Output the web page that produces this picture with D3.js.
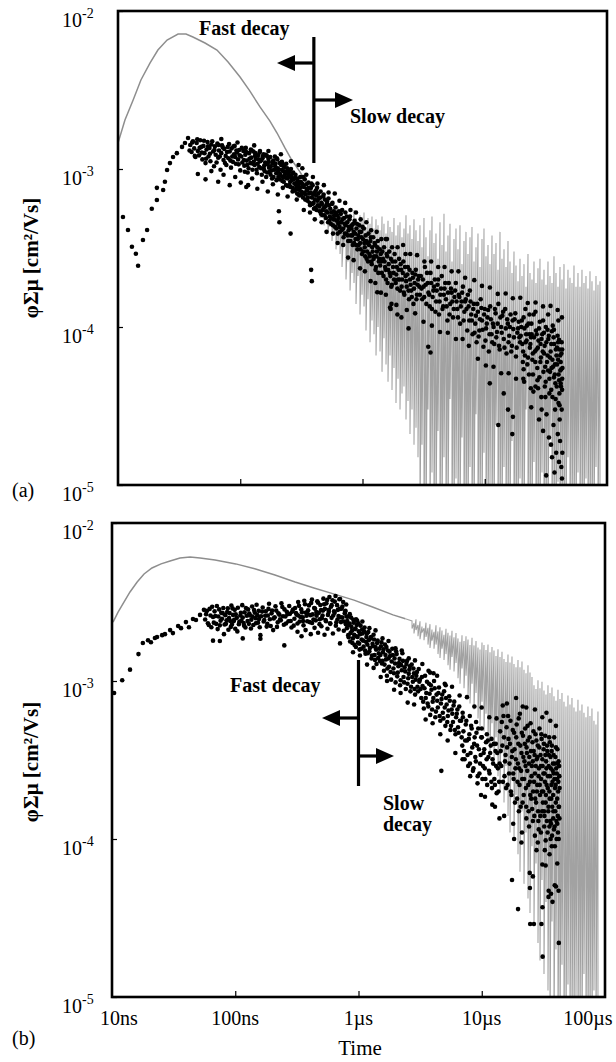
<!DOCTYPE html>
<html><head><meta charset="utf-8">
<script src="https://cdn.jsdelivr.net/npm/d3@7/dist/d3.min.js"></script>
<style>html,body{margin:0;padding:0;background:#fff;} svg{display:block;}</style>
</head><body>
<svg id="chart" width="616" height="1062"></svg>
<script>
// ---------------- DATA ----------------
// time in ns, values in units of 1e-4 cm^2/Vs
const X_TICKS_NS = [10, 100, 1000, 10000, 100000];
const X_TICK_LABELS = ["10ns", "100ns", "1\u00b5s", "10\u00b5s", "100\u00b5s"];
const Y_TICKS = [0.1, 1, 10, 100];
const Y_TICK_EXP = ["-5", "-4", "-3", "-2"];
const Y_TITLE = "\u03c6\u03a3\u03bc [cm\u00b2/Vs]";
const X_TITLE = "Time";

// Panel (a) grey trace: smooth early part
const grayA_t = [10,11.4,13.3,15.4,18.3,21.2,25.2,31.0,36.0,41.0,51.5,64.5,79.5,99.6,120,145,175,200,232,264,308,345];
const grayA_v = [14.6,20.4,27.3,36.6,46.9,56.6,65.5,71.5,71.5,68.5,62.7,56.6,47.6,38.2,31.1,24.7,20.1,16.9,13.6,11.4,9.6,8.3];
// Panel (a) grey trace: noisy part (upper / lower excursion per sample)
const grayA_nt = [372,386,401,417,433,449,466,484,503,522,542,563,585,607,630,
 655,680,706,733,761,791,821,852,885,919,954,991,1029,1068,1109,1152,1196,1242,1290,1339,1391,1444,1499,1557,1617,1679,1743,1810,1879,1952,2027,2104,2185,2269,2356,2446,2540,2638,2739,2844,
 2953,3066,3184,3306,3433,3565,3702,3844,3991,4145,4304,4469,4641,4819,5004,5196,5396,5603,5818,6041,6273,6514,6764,7023,7293,7573,7864,8166,8479,8805,9143,9495,9859,10237,10631,11039,11463,11903,12359,12834,13327,13838,14370,14921,15494,16088,16706,17348,18014,18706,19423,20169,20944,21746,22581,23448,24348,25283,26252,27261,28307,29394,30523,31693,32910,34173,35486,36849,38262,39731,41256,42841,44486,46191,47965,49806,51719,53705,55764,57906,60127,62436,64834,67320,69906,72589,75376,78270,81283,84402,87640];
const grayA_hi = [7.8,7.6,7.1,7.4,6.9,6.6,6.8,6.2,6.4,5.9,6.1,5.6,5.9,5.4,5.7,
 5.3,5.6,5.0,5.4,4.8,5.2,4.6,5.5,4.9,4.4,5.1,4.7,5.3,4.3,4.9,4.5,5.0,4.2,4.8,4.4,
 4.1,5.0,4.5,3.9,4.7,4.3,4.0,4.9,3.8,4.4,4.6,3.7,4.2,5.1,3.9,4.4,3.6,4.8,4.1,3.5,
 4.4,3.2,4.9,3.7,2.8,4.1,5.0,3.4,3.9,2.7,4.6,3.3,5.2,3.0,3.8,4.5,2.6,3.6,4.2,3.1,
 4.4,2.5,3.5,4.0,2.9,3.7,4.3,2.6,3.2,3.9,2.4,3.6,4.2,2.8,3.3,2.5,3.8,2.9,3.4,2.3,
 4.0,2.7,3.1,2.4,3.5,2.6,2.2,3.0,2.45,1.95,2.7,2.1,2.5,1.8,2.9,2.2,2.0,2.6,1.9,2.35,
 2.7,2.0,2.3,1.85,2.6,2.1,1.9,2.8,2.2,1.8,2.4,2.0,2.5,1.75,2.3,2.05,1.9,2.45,1.8,2.2,
 1.8,2.3,1.9,2.1,1.75,2.25,1.95,1.7,2.1,1.85,1.95];
const grayA_lo = [6.9,6.3,6.0,5.5,5.8,4.9,5.3,4.4,4.8,3.9,4.3,3.5,3.9,3.1,3.4,
 2.9,2.4,3.3,2.0,2.6,1.7,2.2,1.9,1.4,2.1,1.2,1.6,1.35,0.95,1.5,0.8,1.1,0.9,0.66,1.0,
 0.7,0.52,0.85,0.58,0.45,0.66,0.4,0.55,0.33,0.47,0.3,0.38,0.42,0.26,0.34,0.21,0.3,0.18,0.23,0.15,
 0.05,0.18,0.05,0.05,0.3,0.05,0.12,0.05,0.05,0.22,0.05,0.05,0.15,0.05,0.05,0.35,0.05,0.05,0.11,0.05,
 0.05,0.2,0.05,0.05,0.05,0.13,0.05,0.05,0.28,0.05,0.05,0.05,0.16,0.05,0.05,0.1,0.05,0.05,0.24,0.05,
 0.05,0.05,0.13,0.05,0.05,0.05,0.19,0.05,0.05,0.05,0.11,0.05,0.05,0.3,0.05,0.05,0.05,0.14,0.05,0.05,
 0.05,0.12,0.05,0.05,0.05,0.2,0.05,0.05,0.05,0.105,0.05,0.05,0.05,0.05,0.15,0.05,0.05,0.05,0.05,0.12,
 0.05,0.05,0.05,0.11,0.05,0.05,0.05,0.05,0.13,0.05,0.05];

// Panel (a) dots [ns, value]
const dotsA = [
 [10.98,4.97],[12.07,4.11],[13.0,3.22],[14.0,2.91],[14.6,2.44],
 [16.0,3.55],[17.3,4.11],[18.9,5.6],[20.8,6.36],[20.8,7.6],[23.4,7.36],[24.2,8.3],[25.2,9.86],[26.6,10.9],[28.2,11.9],[30.3,12.6],[33.4,13.8],[35.3,14.6],[37.4,15.7],
 [39,14.2],[40,12.8],[41,15.0],[42,13.5],[43,11.9],[44,14.6],[45,13.0],[46,12.2],[47,15.2],[48,13.8],[49,11.5],[50,14.0],[51,12.6],[52,10.9],[53,13.3],[54,14.8],[55,12.0],[56,13.6],[57,11.2],[58,14.3],[60,12.9],[61,10.4],[62,13.9],[63,12.3],[65,14.5],[66,11.8],[67,13.1],[69,9.9],[70,12.6],[71,14.1],[73,11.4],[74,13.4],[76,12.1],[77,10.6],[79,13.8],[80,11.7],[82,12.9],[84,10.2],[85,13.5],[87,11.1],[89,12.4],[90,14.0],[92,10.8],[94,12.7],[96,11.5],[98,13.2],[100,9.8],[102,12.0],[104,11.0],[106,13.0],[108,10.5],[110,12.3],[113,11.3],[115,9.5],[116,7.9],[118,12.6],[121,10.9],[123,11.8],[126,9.9],[128,12.9],[131,10.6],[134,11.6],[137,9.4],[140,12.2],[143,10.3],[146,11.2],[150,9.2],[153,12.0],[156,10.0],[160,11.0],[163,8.9],[167,10.7],[170,11.6],[174,9.6],[178,10.4],[182,8.7],[186,11.3],[190,9.9],[194,10.8],[198,8.5],[203,10.1],[207,5.4],[209,4.6],[212,9.3],[216,10.6],[221,8.4],[225,9.7],[230,10.3],[235,8.8],[240,9.5],[245,7.8],[250,9.2],[256,8.3],[258,3.9],[262,9.0],[268,7.6],[274,8.6],[280,7.3],[286,8.1],[292,7.0],[298,7.9],[305,6.8],
 [111,13.6],[117,10.1],[124,13.1],[129,11.1],[133,12.6],[139,10.8],[144,12.7],[149,11.4],[155,12.4],[158,9.7],[165,12.1],[172,10.2],[176,11.9],[181,9.8],[188,10.9],[192,12.0],[197,9.4],[201,11.5],[205,8.9],[210,10.9],[214,9.1],[219,11.1],[224,8.9],[228,10.4],[233,9.6],[238,10.8],[243,8.7],[248,9.9],[253,7.9],[260,10.0],[265,8.7],[271,9.5],[277,8.1],[283,9.2],[289,7.6],[295,8.7],[302,7.4],
 [310,8.9],[315,7.2],[320,8.1],[326,6.6],[331,7.7],[337,8.6],[343,6.9],[349,7.5],[355,6.3],[361,8.2],[367,7.0],[373,5.9],[379,7.6],[385,6.6],[391,7.9],[398,6.1],[404,7.1],[411,5.7],[418,6.8],[425,7.6],[432,5.9],[439,6.5],[446,5.4],[454,7.2],[461,6.1],[469,5.1],[477,6.7],[485,5.7],[493,6.4],[502,4.9],[510,6.0],[519,5.3],[527,6.5],[536,4.7],[545,5.6],[554,4.9],[563,6.0],[573,4.4],[582,5.4],[592,4.8],[602,5.7],[612,4.2],[622,5.1],[633,4.5],[643,5.4],[654,4.0],[380,2.3],[385,1.95],
 [665,5.2],[676,4.1],[688,4.8],[700,3.7],[712,4.5],[724,5.3],[737,3.9],[750,4.6],[763,3.5],[776,4.3],[790,5.0],[804,3.8],[818,4.4],[832,3.3],[847,4.0],[862,4.7],[877,3.6],[892,4.2],[908,3.1],[924,3.8],[940,4.4],[957,3.4],[974,4.0],[991,2.9],[1008,3.6],[1026,4.2],[1044,3.2],[1062,3.8],[1081,2.7],[1100,3.4],[1120,3.9],[1139,2.9],[1160,3.5],[1180,2.6],[1201,3.2],[1222,3.7],[1244,2.8],[1266,3.3],[1289,2.4],[1312,3.0],[1335,3.5],[1359,2.6],[1383,3.1],[1320,1.66],[1680,1.33],
 [1410,2.9],[1440,2.2],[1470,2.7],[1500,3.2],[1530,2.4],[1560,2.0],[1590,2.8],[1620,2.3],[1655,3.0],[1690,2.1],[1720,1.8],[1760,2.6],[1795,2.2],[1830,2.9],[1870,1.9],[1910,2.4],[1950,2.0],[1990,2.7],[2030,1.7],[2070,2.3],[2110,2.0],[2160,2.6],[2200,1.6],[2250,2.1],[2300,1.8],[2350,2.4],[2400,1.5],[2450,2.0],[2500,1.7],[2560,2.2],[2610,1.4],[2670,1.9],[2730,2.3],[2790,1.6],[2850,2.0],[2920,1.8],[1700,1.3],[2080,1.15],[2380,0.98],[1930,1.2],[1550,3.6],[2250,2.9],[3450,0.75],[3600,0.69],
 [3000,2.1],[3080,1.5],[3160,1.8],[3240,2.4],[3330,1.4],[3420,1.9],[3510,1.6],[3600,2.2],[3700,1.3],[3800,1.7],[3900,2.0],[4000,1.45],[4110,1.85],[4220,1.2],[4330,1.6],[4450,2.1],[4570,1.35],[4690,1.75],[4820,1.5],[4950,1.1],[5080,1.9],[5220,1.4],[5360,1.65],[5500,1.15],[5650,1.55],[5800,1.9],[5960,1.3],[6120,1.6],[6290,1.05],[6460,1.45],[6630,1.8],[6810,1.25],[7000,1.5],[7190,0.95],[7380,1.35],[7560,1.7],
 [7750,1.2],[7950,0.9],[8150,1.4],[8360,1.05],[8580,0.8],[8800,1.25],[9030,0.95],[9260,1.5],[9500,1.1],[9750,0.75],[10000,1.3],[10260,0.98],[10530,1.15],[10800,0.7],[11080,1.35],[11370,0.9],[11660,1.05],[11960,0.78],[12270,1.22],[12590,0.93],[12920,1.4],[13250,0.72],[13600,1.0],[13950,1.18],[14310,0.84],[14680,1.3],[15060,0.68],[15450,1.05],[15850,0.88],[16260,1.2],[16680,0.76],[17110,0.97],[17560,1.12],[18010,0.65],[18480,0.92],[18960,1.08],[19450,0.8],[11000,0.44],[12900,0.24],[15500,0.30],[16800,0.21],[17000,0.27],[14300,0.38],
 [19900,1.0],[20300,0.78],[20800,1.15],[21300,0.66],[21800,0.9],[22300,0.58],[22800,1.05],[23400,0.74],[23900,0.86],[24500,0.62],[25100,1.2],[25700,0.7],[26300,0.95],[26900,0.55],[27500,0.82],[28200,1.08],[28800,0.64],[29500,0.9],[30200,0.52],[30900,0.76],[31600,1.0],[32300,0.6],[33100,0.84],[33800,0.47],[34600,0.7],[35400,0.94],[36200,0.56],[37000,0.78],[37800,0.44],[38600,0.66],[39400,0.88],[40200,0.5],[41000,0.72],[41800,0.6],[42600,0.8],[43200,0.55],[42000,0.42],[40800,0.38],[39800,0.62],[38000,0.35],[36800,0.48],[35000,0.4],[33000,0.53],[31000,0.42],[29000,0.36],[27000,0.46],[25000,0.39],[23000,0.5],[21000,0.45],[43000,0.47],[42400,0.68],[41500,0.53],[40500,0.83],[39000,0.74],[37500,0.58],[36000,1.02],[34200,0.64],[32600,0.96],[30600,0.68],[28600,0.78],[26500,0.72],[24200,0.9],[22000,0.82],[20500,0.6],
 [24000,0.31],[27800,0.26],[30000,0.22],[32000,0.28],[34800,0.18],[36500,0.24],[38400,0.16],[39600,0.21],[40500,0.14],[41300,0.19],[42300,0.13],[43100,0.16],[37200,0.12],[35500,0.15],[31800,0.115],[42800,0.11],[33500,0.2],[29200,0.3],
 [21500,1.3],[26000,1.25],[33000,1.2],[42800,1.15],[40000,1.1]
];
const dotsA2 = [
 [38.5,13.1],[40.5,14.7],[42.5,12.1],[44.5,15.4],[46.5,13.6],[48.5,12.7],[50.5,15.1],[52.5,11.6],[54.5,13.9],[56.5,12.5],[59,15.0],[61.5,13.2],[64,11.0],[66.5,14.2],[68,12.0],[72,13.7],[75,10.9],[78,12.8],[81,14.4],[83,11.3],[86,12.0],[88,13.9],[91,11.9],[93,13.1],[97,10.7],[99,12.2],[103,13.6],[107,11.4],[109,9.6],[112,12.8],[114,10.6],[119,11.6],[122,13.3],[127,10.8],[132,12.1],[136,9.9],[141,11.5],[145,13.0],[148,10.1],[152,11.7],[157,10.5],[162,12.3],[166,9.5],[171,11.1],[177,9.2],[183,10.9],[187,8.9],[193,10.4],[199,11.7],[204,9.7],[211,8.6],[217,9.9],[222,10.8],[227,8.3],[232,9.2],[237,7.9],[242,10.1],[247,8.9],[252,9.6],[257,7.7],[263,8.5],[269,9.4],[275,7.4],[281,8.8],[287,7.9],[293,8.3],[299,6.9],[304,8.2],
 [308,7.6],[313,8.3],[318,6.9],[323,7.8],[328,8.9],[334,7.1],[340,6.4],[346,8.0],[352,7.3],[358,6.6],[364,7.6],[370,6.1],[376,7.1],[382,8.1],[388,6.0],[395,6.9],[401,5.6],[408,6.4],[415,7.3],[421,5.5],[428,6.3],[435,7.0],[443,5.8],[450,6.6],[457,5.2],[465,6.0],[473,5.5],[481,6.9],[489,5.1],[497,5.8],[506,5.4],[514,6.2],[523,4.6],[532,5.9],[541,5.0],[550,4.5],[559,5.3],[568,6.1],[578,4.8],[587,5.1],[597,4.3],[607,5.3],[617,4.7],[627,3.9],[638,4.9],[649,4.3],[660,4.6],
 [670,4.6],[682,5.5],[694,4.2],[706,4.9],[718,3.9],[730,4.4],[743,5.0],[756,3.8],[769,4.1],[783,4.8],[797,3.5],[811,4.2],[825,3.8],[840,4.5],[854,3.4],[869,3.9],[885,3.3],[900,4.5],[916,3.6],[932,3.3],[948,4.0],[965,3.1],[982,3.7],[1000,4.3],[1017,3.0],[1035,3.4],[1053,2.8],[1071,3.5],[1090,3.0],[1110,2.6],[1130,3.3],[1150,2.8],[1170,3.7],[1190,2.5],[1212,3.0],[1233,2.7],[1255,3.4],[1278,2.3],[1300,2.8],[1323,3.2],[1347,2.2],[1371,2.7],[1395,2.45],
 [1425,2.6],[1455,3.0],[1485,2.1],[1515,2.6],[1545,2.3],[1575,2.9],[1605,1.9],[1638,2.5],[1672,2.2],[1705,2.7],[1740,1.85],[1778,2.4],[1812,2.0],[1850,2.6],[1890,2.15],[1930,1.75],[1970,2.3],[2010,2.0],[2050,2.5],[2090,1.8],[2135,2.2],[2180,1.65],[2225,2.4],[2275,1.95],[2325,2.15],[2375,1.7],[2425,2.3],[2475,1.85],[2530,1.55],[2585,2.05],[2640,1.75],[2700,2.15],[2760,1.5],[2820,1.85],[2885,2.1],[2950,1.6],
 [3040,1.75],[3120,2.0],[3200,1.55],[3290,1.85],[3370,2.2],[3460,1.65],[3550,1.35],[3650,1.9],[3750,1.55],[3850,1.8],[3950,1.25],[4050,1.7],[4160,2.0],[4270,1.45],[4390,1.75],[4510,1.3],[4630,1.6],[4750,1.9],[4880,1.35],[5010,1.65],[5150,1.2],[5290,1.75],[5430,1.45],[5580,1.3],[5720,1.7],[5880,1.45],[6040,1.15],[6200,1.55],[6370,1.35],[6540,1.65],[6720,1.1],[6900,1.45],[7090,1.3],[7280,1.6],[7470,1.1],
 [7650,1.45],[7850,1.1],[8050,1.3],[8250,0.92],[8470,1.18],[8690,1.4],[8910,0.87],[9140,1.12],[9380,1.32],[9620,0.96],[9880,1.2],[10130,0.82],[10390,1.05],[10660,1.28],[10940,0.9],[11220,1.12],[11510,0.8],[11810,1.0],[12110,1.3],[12430,0.86],[12750,1.05],[13080,0.76],[13420,1.15],[13770,0.92],[14130,1.25],[14500,0.74],[14870,0.98],[15250,1.12],[15650,0.8],[16050,1.0],[16470,0.7],[16900,1.1],[17340,0.86],[17780,1.22],[18240,0.74],[18720,0.98],[19200,0.86],
 [19700,0.88],[20100,1.1],[20600,0.7],[21100,0.98],[21600,0.8],[22100,1.02],[22600,0.64],[23100,0.9],[23600,0.78],[24100,1.05],[24700,0.68],[25300,0.86],[25900,0.6],[26600,0.9],[27200,0.74],[27800,0.98],[28500,0.6],[29100,0.84],[29800,0.7],[30500,0.92],[31200,0.56],[31900,0.8],[32700,0.66],[33400,0.88],[34200,0.52],[35000,0.78],[35800,0.62],[36600,0.86],[37400,0.5],[38200,0.72],[39000,0.58],[39800,0.8],[40600,0.46],[41400,0.66],[42200,0.54],[43000,0.72],[20800,0.54],[24800,0.5],[28000,0.48],[31500,0.45],[35200,0.55],[38800,0.42],[41800,0.44],[42900,0.4],[23200,1.2],[30000,1.1],[36800,0.96],[26000,0.42],[33800,0.38],[40100,0.33],[42600,0.3],[37600,0.3],[41000,0.26]
];
// Panel (a) outer edge of the scatter band
const dotsA3 = [
 [45,9.3],[52,8.6],[58,9.7],[66,8.3],[73,9.2],[82,7.9],[91,8.9],[101,8.2],[112,7.7],[125,8.7],[138,7.5],[152,8.3],[168,7.2],[185,8.0],[203,6.9],[223,7.6],[244,6.7],[268,7.2],[290,6.4],
 [70,15.5],[95,14.7],[130,14.1],[170,13.0],[215,12.4],[260,11.2],[300,10.6],
 [322,10.1],[347,9.2],[393,8.9],[428,8.1],[483,7.9],[528,7.1],[593,7.0],[648,6.3],[331,5.5],[372,5.3],[407,4.8],[463,4.6],[508,4.0],[574,3.9],[626,3.4],[695,3.3],
 [722,6.1],[797,5.5],[884,5.3],[966,4.8],[1075,4.6],[1176,4.1],[1306,4.0],[1426,3.6],[1585,3.6],[1746,3.2],[1936,3.2],[762,2.75],[846,2.65],[955,2.35],[1046,2.25],[1165,1.95],[1274,1.9],[1415,1.65],[1553,1.6],[1726,1.4],[1893,1.38],
 [2148,3.3],[2456,2.9],[2795,2.85],[3208,2.6],[3642,2.6],[4160,2.4],[4690,2.4],[5360,2.25],[6090,2.25],[6910,2.05],[2304,1.28],[2695,1.22],[3155,1.08],[3694,1.02],[4306,0.93],[4990,0.92],[5812,0.84],[6590,0.84],[7410,0.76],
 [8210,1.98],[9490,1.82],[11020,1.78],[12780,1.62],[14830,1.63],[16970,1.52],[19540,1.53],[22480,1.42],[26030,1.43],[29960,1.35],[34520,1.36],[39470,1.28],[8790,0.63],[10220,0.57],[11790,0.56],[13620,0.51],[15680,0.51],[18030,0.47],[20680,0.47],[23820,0.41],[27290,0.41],[31330,0.36],[35790,0.36],[40920,0.32]
];

// Panel (b) grey trace
const grayB_t = [10.2,11.2,12.5,14.0,16.0,18.2,21.1,25.0,29.6,35.6,43.0,51.8,68.6,101,144,210,306,435,627,919,1300,1905,2400];
const grayB_v = [23.6,27.3,31.6,36.6,42.3,47.6,51.9,55.1,57.5,60.1,61.0,60.1,58.3,55.1,51.3,46.9,42.3,38.8,35.6,32.5,29.4,26.2,24.8];
const grayB_nt = [2718,2820,2928,3039,3155,3275,3399,3529,3663,3803,3947,4098,4254,4416,4584,4759,4940,5128,5324,5526,
 5737,5955,6182,6417,6662,6916,7179,7453,7736,8031,8337,8654,8984,9325,9680,10047,10430,10827,11239,11667,
 12111,12572,13050,13547,14063,14598,15154,15730,16330,16951,17596,18266,18962,19683,20432,21210,22017,22855,23725,24628,
 25565,26538,27548,28596,29684,30813,31987,33204,34467,35780,37142,38555,40022,41546,43126,44767,46470,48240,50075,51980,
 53959,56012,58143,60355,62653,65037,67511,70079,72748,75516,78389,81374,84471,87683];
const grayB_hi = [24.0,23.2,24.6,22.6,23.9,22.1,21.6,23.4,21.7,22.9,21.2,20.5,22.5,20.6,21.9,20.9,19.6,21.4,20.2,19.4,
 20.8,18.9,20.1,18.6,17.7,19.5,17.9,19.2,18.3,16.9,18.8,16.8,17.9,16.3,15.8,17.5,16.9,15.7,17.0,15.2,
 16.4,15.6,14.4,15.9,14.2,15.3,13.8,13.2,14.7,13.1,14.3,12.8,12.2,13.6,12.2,13.3,11.8,11.2,12.6,11.3,
 10.6,9.4,8.9,10.1,9.0,9.9,8.7,8.2,9.4,8.4,9.1,8.0,7.5,8.8,7.7,8.4,7.4,6.9,8.1,7.1,
 7.8,6.8,6.4,7.6,6.5,7.1,6.3,5.9,6.9,6.0,6.7,5.6,5.3,6.4];
const grayB_lo = [21.5,20.0,21.0,19.2,18.4,20.3,18.1,19.0,17.0,16.2,18.0,16.0,17.0,14.8,14.0,16.0,13.6,14.8,12.6,11.8,
 14.2,11.5,13.0,10.4,9.6,12.0,9.0,10.8,8.0,7.2,9.6,6.6,8.4,5.8,5.2,7.4,4.8,6.2,4.0,3.4,
 5.4,3.0,4.4,2.5,2.0,3.6,1.7,2.9,1.4,1.1,2.4,1.0,1.9,0.8,0.62,1.5,0.52,1.1,0.42,0.34,
 0.9,0.28,0.7,0.22,0.17,0.55,0.14,0.4,0.11,0.05,0.3,0.05,0.2,0.05,0.05,0.16,0.05,0.05,0.12,0.05,
 0.05,0.05,0.1,0.05,0.05,0.05,0.14,0.05,0.05,0.05,0.05,0.11,0.05,0.05];

// Panel (b) dots [ns, value]
const dotsB = [
 [10.4,8.4],[12.1,10.1],[14.0,11.8],[16.4,14.8],[17.8,17.4],[19.6,18.1],[20.7,17.6],[22.3,18.7],[23.2,19.0],[25.5,19.5],[26.9,19.8],[29.6,21.0],[31.2,20.1],[34.4,22.3],[36.3,21.6],[39.8,23.6],[42.1,21.9],[45.4,24.7],[48.0,24.3],[51.8,26.2],[55.7,28.2],
 [57,24.5],[59,27.8],[61,22.6],[63,26.0],[65,29.5],[67,23.4],[69,25.8],[72,21.3],[74,28.4],[76,24.1],[79,26.9],[81,19.8],[84,23.0],[86,27.3],[89,25.0],[92,22.0],[95,28.8],[98,24.4],[101,26.4],[104,20.6],[108,23.7],[111,27.0],[115,25.2],[118,22.4],[122,29.0],[126,24.0],[130,26.7],[134,21.5],[138,25.6],[142,28.1],[147,23.2],[151,26.1],[156,24.7],[160,19.5],[165,27.5],[170,23.8],[175,25.9],[180,22.1],[186,28.6],[191,24.6],[197,26.8],[203,21.0],[209,25.3],[215,27.9],[221,23.5],[228,26.3],[234,24.2],[241,29.4],[248,22.7],[255,25.6],[262,27.4],[270,23.9],[278,26.6],[286,21.8],[294,28.3],[302,24.8],[311,26.9],[320,23.1],[329,29.9],[338,25.4],[348,27.2],[358,22.5],[368,30.6],[379,25.9],[390,28.0],[401,23.6],[413,31.2],[425,26.4],[437,29.0],[450,24.2],[463,32.0],[476,27.0],[490,30.3],[504,25.0],[519,33.2],[534,28.6],[549,31.0],[565,26.2],[581,34.0],[598,29.5],[615,32.4],[633,27.6],[651,34.5],[670,30.2],[689,25.8],[709,33.0],[730,28.7],[751,31.6],[773,26.8],[795,30.5],
 [320,20.5],[345,19.2],[372,21.0],[410,19.8],[440,21.7],[470,20.2],[500,22.2],[530,19.6],[560,21.4],[590,23.0],[620,20.0],[655,22.4],[690,21.2],[720,23.6],[760,20.8],[790,22.9],
 [325,26.0],[355,24.0],[385,26.8],[420,23.3],[455,27.3],[485,24.6],[515,27.9],[545,23.9],[575,28.2],[605,25.1],[640,27.0],[675,24.5],[705,28.6],[740,25.2],[780,27.5],
 [66,18.0],[115,18.6],[250,16.8],[75,17.9],[708,17.3],[160,18.5],
 [810,24.0],[825,19.5],[840,22.6],[855,17.8],[870,25.2],[885,20.8],[900,18.6],[915,23.4],[930,16.9],[945,21.5],[960,19.2],[975,24.1],[990,17.5],[1005,20.6],[1020,15.8],[1040,22.4],[1060,18.3],[1080,20.0],[1100,16.5],[1120,21.8],[1140,14.9],[1160,19.0],[1180,17.0],[1200,20.4],[1225,15.4],[1250,18.6],[1275,13.9],[1300,17.2],[1325,19.6],[1350,14.6],[1375,16.4],[1400,12.8],[1430,18.0],[1460,15.0],[1490,13.4],
 [1520,16.6],[1550,12.9],[1580,15.2],[1610,11.6],[1640,17.0],[1670,13.7],[1700,10.8],[1735,15.6],[1770,12.3],[1805,14.4],[1840,10.2],[1880,16.0],[1920,12.0],[1960,13.9],[2000,9.8],[2040,14.8],[2085,11.3],[2130,13.0],[2175,9.4],[2220,12.6],[2270,15.0],[2320,10.6],[2370,12.2],[2420,8.9],[2475,13.4],[2530,10.4],[2585,11.8],[2640,8.6],[2700,12.7],[2760,9.9],[2820,11.2],[2880,8.2],[2945,10.8],[3010,9.2],[3080,11.9],
 [3150,10.2],[3230,7.8],[3310,9.3],[3390,6.7],[3470,10.8],[3550,8.4],[3640,7.2],[3730,9.6],[3820,6.1],[3910,8.8],[4000,7.4],[4100,10.0],[4200,5.9],[4300,8.2],[4400,6.8],[4500,9.1],[4610,5.6],[4720,7.7],[4830,6.3],[4950,8.6],[5070,5.2],[5190,7.1],[5310,6.0],[5440,8.0],[5570,4.9],[5700,6.6],[5840,5.5],[5980,7.4],[6120,4.6],[6270,6.2],[6420,5.1],[6570,6.9],[4060,11.2],[3700,11.6],[5100,9.4],
 [6800,5.6],[6950,3.9],[7100,4.8],[7260,3.2],[7420,5.3],[7590,4.2],[7760,2.9],[7930,4.6],[8110,3.5],[8290,5.0],[8480,2.7],[8670,4.0],[8860,3.3],[9060,4.7],[9270,2.5],[9480,3.7],[9690,3.0],[9910,4.4],[10130,2.4],[10360,3.5],[10590,2.8],[10830,4.1],[11070,2.2],[11320,3.3],[11570,2.6],[11830,3.9],[12100,2.1],[12370,3.0],[12650,2.4],[12930,3.6],[13220,1.95],[13520,2.8],[13820,2.3],[7000,6.3],[8000,6.0],[9000,5.5],[10000,5.0],[11000,4.6],[12000,4.3],[13000,4.0],
 [14100,4.8],[14400,2.9],[14700,3.9],[15000,6.0],[15300,2.5],[15600,3.4],[15900,5.1],[16200,2.2],[16500,4.3],[16800,3.0],[17100,5.6],[17400,1.9],[17700,3.6],[18000,2.6],[18300,4.7],[18600,1.7],[18900,3.2],[19200,5.3],[19500,2.3],[19800,4.0],[20100,2.8],[20400,6.2],[20700,1.6],[21000,3.5],[21300,2.4],[21600,4.5],[21900,1.9],[22200,3.1],[22500,5.0],[22800,2.1],[23100,3.8],[23400,2.7],[23700,4.2],[24000,1.5],[24300,3.3],[24600,2.3],[24900,5.4],[25200,1.8],[25500,2.9],[25800,4.1],[26100,2.0],[26400,3.6],[26700,1.4],[27000,2.6],[27300,4.6],[27600,1.7],[27900,3.2],[28200,2.2],[28500,3.9],[28800,1.3],[29100,2.8],[29400,5.0],[29700,1.9],[30000,3.4],[30300,2.4],[30600,4.3],[30900,1.5],[31200,2.9],[31500,2.0],[31800,3.7],[32100,1.2],[32400,2.6],[32700,4.5],[33000,1.7],[33300,3.1],[33600,2.2],[33900,3.9],[34200,1.1],[34500,2.5],[34800,1.6],[35100,3.4],[35400,2.0],[35700,4.1],[36000,1.3],[36300,2.8],[36600,1.8],[36900,3.6],[37200,1.05],[37500,2.3],[37800,3.0],[38100,1.5],[38400,2.6],[38700,4.4],[39000,1.2],[39300,2.1],[39600,3.3],[39900,1.7],[40200,2.8],[40500,1.0],[40800,2.4],[41100,3.7],[41400,1.4],[41700,2.0],[42000,3.1],[42300,1.6],[42600,2.5],
 [16000,7.2],[19000,7.8],[23000,6.8],[27000,6.6],[31000,5.9],[36000,5.6],[40000,5.2],[14800,7.0],[21500,6.9],[33500,6.3],
 [17600,0.55],[18300,1.0],[19700,0.36],[24600,0.49],[24700,0.29],[24500,0.61],[27800,0.85],[31100,0.37],[31200,0.18],[31000,0.69],[34800,0.43],[34900,0.47],[39100,0.51],[42200,0.22],[35500,0.8],[28500,0.95],[37000,0.9],[41000,0.7],
 [4700,2.7],[9870,1.9],[12800,1.6],[21000,0.95],[26000,0.58],[26500,0.29],[30500,0.29],[33000,0.68],[32500,0.85],[36500,0.45],[37500,0.4],[42000,0.47],[40000,0.5]
];
const dotsB2 = [
 [58,26.5],[60,23.2],[62,28.6],[64,21.9],[66,25.4],[68,27.6],[70,23.0],[71,29.8],[73,25.6],[75,22.5],[77,27.0],[78,24.8],[80,29.0],[82,22.8],[83,26.1],[85,24.2],[87,28.9],[88,21.1],[90,26.9],[91,24.0],[93,30.0],[94,22.8],[96,26.2],[97,23.9],[99,28.2],[100,21.4],[103,25.1],[105,29.1],[107,22.9],[110,26.0],[112,24.1],[114,30.2],[117,23.3],[119,27.2],[121,21.8],[124,25.9],[127,28.4],[129,23.0],[132,26.0],[135,24.4],[137,29.6],[140,22.6],[144,27.1],[146,25.0],[149,30.4],[153,23.4],[155,27.8],[158,21.9],[162,25.7],[167,29.2],[172,24.3],[177,27.6],[182,23.0],[184,26.0],[188,30.8],[194,22.3],[199,27.9],[205,24.9],[212,29.7],[218,22.0],[224,26.8],[231,24.6],[237,31.0],[244,25.7],[251,28.4],[258,23.1],[266,26.5],[274,29.8],[282,24.0],[290,27.5],[298,22.4],[306,29.0],[315,26.3],[324,31.6],[333,23.8],[343,28.4],[353,25.3],[363,32.2],[374,27.1],[384,23.9],[396,30.1],[407,26.1],[419,32.8],[431,24.5],[444,28.7],[457,25.9],[470,31.3],[483,22.9],[497,28.1],[511,26.0],[526,30.6],[541,24.3],[557,32.6],[573,27.3],[589,23.2],[606,30.2],[624,26.0],[642,31.8],[661,23.5],[680,28.2],[699,32.9],[719,25.3],[740,29.6],[762,23.8],[784,27.8],[800,25.6],
 [805,21.6],[818,25.5],[832,18.9],[847,23.1],[862,20.1],[877,22.0],[893,17.4],[908,24.4],[922,19.6],[938,21.3],[953,16.4],[968,22.6],[983,19.0],[998,23.2],[1013,17.2],[1030,19.8],[1050,16.0],[1070,21.2],[1090,18.0],[1110,20.6],[1130,15.6],[1150,17.7],[1170,20.0],[1190,15.0],[1212,18.1],[1237,16.2],[1262,19.0],[1288,14.5],[1312,16.6],[1337,18.3],[1362,13.6],[1388,15.8],[1415,17.4],[1445,14.0],[1475,16.0],
 [1505,14.6],[1535,17.6],[1565,13.4],[1595,15.9],[1625,12.7],[1655,14.6],[1685,16.4],[1718,12.0],[1752,13.9],[1787,15.3],[1822,11.4],[1860,13.3],[1900,14.6],[1940,11.2],[1980,12.9],[2020,15.4],[2062,10.7],[2107,12.4],[2152,13.8],[2197,10.1],[2245,11.7],[2295,13.4],[2345,9.8],[2395,11.5],[2447,12.8],[2500,9.6],[2557,11.1],[2612,12.4],[2670,9.2],[2730,10.6],[2790,12.0],[2850,8.9],[2912,10.2],[2980,11.4],[3045,8.6],[3115,9.9],
 [3190,8.9],[3270,10.6],[3350,7.4],[3430,9.0],[3510,7.8],[3595,9.9],[3685,6.9],[3775,8.3],[3865,9.4],[3955,6.6],[4050,7.8],[4150,9.0],[4250,6.4],[4350,7.5],[4450,8.4],[4555,6.0],[4665,7.2],[4775,8.2],[4890,5.8],[5010,6.8],[5130,7.8],[5250,5.5],[5375,6.5],[5505,7.5],[5635,5.2],[5770,6.2],[5910,7.0],[6050,4.9],[6195,5.9],[6345,6.6],[6495,4.7],[6650,5.6],
 [6870,4.4],[7030,5.9],[7180,3.6],[7340,4.2],[7500,5.6],[7670,3.4],[7850,4.3],[8020,3.0],[8200,5.2],[8380,3.8],[8570,2.8],[8760,4.4],[8960,3.1],[9160,3.9],[9370,5.0],[9580,2.6],[9800,3.4],[10020,4.4],[10250,2.9],[10480,3.7],[10710,2.4],[10950,3.2],[11200,4.2],[11450,2.7],[11700,3.5],[11960,2.3],[12230,3.2],[12510,4.0],[12790,2.2],[13080,2.9],[13370,3.5],[13670,2.0],[13960,3.0],
 [14250,3.6],[14550,5.5],[14850,2.3],[15150,4.4],[15450,3.1],[15750,2.1],[16050,3.8],[16350,6.0],[16650,2.6],[16950,4.0],[17250,2.0],[17550,3.3],[17850,4.9],[18150,2.4],[18450,3.7],[18750,2.8],[19050,4.4],[19350,1.8],[19650,3.0],[19950,5.8],[20250,2.2],[20550,3.9],[20850,2.7],[21150,4.7],[21450,1.7],[21750,3.3],[22050,2.4],[22350,4.0],[22650,2.9],[22950,1.6],[23250,3.5],[23550,5.2],[23850,2.2],[24150,3.0],[24450,4.4],[24750,1.9],[25050,3.6],[25350,2.5],[25650,1.55],[25950,3.1],[26250,4.8],[26550,2.3],[26850,3.4],[27150,1.8],[27450,2.9],[27750,4.2],[28050,2.0],[28350,3.3],[28650,1.5],[28950,2.5],[29250,3.8],[29550,2.2],[29850,1.4],[30150,2.9],[30450,4.6],[30750,2.0],[31050,3.2],[31350,1.7],[31650,2.6],[31950,4.0],[32250,1.4],[32550,2.3],[32850,3.4],[33150,1.9],[33450,2.8],[33750,1.3],[34050,3.6],[34350,2.1],[34650,1.5],[34950,2.9],[35250,4.4],[35550,1.8],[35850,2.5],[36150,3.3],[36450,1.25],[36750,2.2],[37050,3.9],[37350,1.6],[37650,2.7],[37950,1.9],[38250,3.4],[38550,1.15],[38850,2.4],[39150,3.0],[39450,1.5],[39750,2.2],[40050,3.8],[40350,1.3],[40650,2.6],[40950,1.8],[41250,3.0],[41550,1.1],[41850,2.3],[42150,1.6],[42450,2.9],[42700,1.35],[42800,2.1],
 [15200,1.4],[18000,1.25],[21200,1.1],[24200,1.2],[27000,1.05],[30200,1.1],[33000,0.98],[36200,1.0],[39200,0.9],[42100,1.0],[41000,1.25],[38000,1.35],[35400,1.2],[32000,1.5],[29000,1.15],[26000,1.3],[23000,1.35],[20000,1.5]
];
// Panel (b) outer edge of the scatter band
const dotsB3 = [
 [850,26.5],[955,24.6],[1075,23.8],[1226,21.6],[1374,20.9],[1566,18.6],[1752,17.9],[1995,16.1],[2243,15.6],[2558,13.9],[2871,13.5],
 [903,15.2],[1027,14.5],[1174,12.7],[1326,12.1],[1514,10.6],[1705,10.0],[1945,8.8],[2196,8.4],[2507,7.3],[2826,7.1],
 [3296,12.8],[3807,11.3],[4342,10.8],[5011,9.6],[5740,9.2],[6612,8.1],[7590,7.9],[8712,6.9],[9985,6.8],[11520,5.9],[13180,5.8],
 [3506,5.7],[3994,5.4],[4610,4.6],[5290,4.2],[6110,3.5],[6990,3.2],[8060,2.5],[9240,2.25],[10620,1.85],[12180,1.65],[13920,1.35]
];

// ---------------- DRAWING ----------------
const SERIF = "'Liberation Serif','Times New Roman',Times,serif";
const svg = d3.select("#chart");

const panels = [
  {key: "a", label: "(a)", box: {l: 118, r: 607, t: 11, b: 485},
   st: grayA_t, sv: grayA_v, nt: grayA_nt, hi: grayA_hi, lo: grayA_lo, dots: dotsA.concat(dotsA2, dotsA3),
   titleY: 258, panelLabelY: 497, xLabels: false},
  {key: "b", label: "(b)", box: {l: 112, r: 605, t: 523, b: 997},
   st: grayB_t, sv: grayB_v, nt: grayB_nt, hi: grayB_hi, lo: grayB_lo, dots: dotsB.concat(dotsB2, dotsB3),
   titleY: 762, panelLabelY: 1045, xLabels: true}
];

panels.forEach(p => {
  const B = p.box;
  const x = d3.scaleLog().domain([X_TICKS_NS[0], X_TICKS_NS[X_TICKS_NS.length - 1]]).range([B.l, B.r]);
  const y = d3.scaleLog().domain([Y_TICKS[0], Y_TICKS[Y_TICKS.length - 1]]).range([B.b, B.t]);
  p.x = x; p.y = y;
  const g = svg.append("g");

  g.append("clipPath").attr("id", "clip-" + p.key)
    .append("rect").attr("x", B.l).attr("y", B.t).attr("width", B.r - B.l).attr("height", B.b - B.t);

  const line = d3.line().x(d => x(d[0])).y(d => y(d[1]));
  // noisy grey part
  const npts = [];
  p.nt.forEach((t, i) => { npts.push([t, p.hi[i]]); npts.push([t, p.lo[i]]); });
  npts.unshift([p.st[p.st.length - 1], p.sv[p.sv.length - 1]]);
  g.append("path").attr("clip-path", "url(#clip-" + p.key + ")")
    .attr("d", line(npts)).attr("fill", "none")
    .attr("stroke", "#a2a2a2").attr("stroke-width", 1.05);
  // smooth grey part
  g.append("path").attr("clip-path", "url(#clip-" + p.key + ")")
    .attr("d", line(p.st.map((t, i) => [t, p.sv[i]]))).attr("fill", "none")
    .attr("stroke", "#8e8e8e").attr("stroke-width", 1.5);

  // dots
  g.append("g").attr("clip-path", "url(#clip-" + p.key + ")")
    .selectAll("circle").data(p.dots).join("circle")
    .attr("cx", d => x(d[0])).attr("cy", d => y(d[1])).attr("r", 2.3).attr("fill", "#000");

  // axes ticks (inward)
  const ya = d3.axisLeft(y).tickValues(Y_TICKS).tickSize(-5).tickFormat("");
  const yg = g.append("g").attr("transform", `translate(${B.l},0)`).call(ya);
  const xa = d3.axisBottom(x).tickValues(X_TICKS_NS.slice(1, -1)).tickSize(-6).tickFormat("");
  const xg = g.append("g").attr("transform", `translate(0,${B.b})`).call(xa);
  [yg, xg].forEach(a => { a.select(".domain").remove(); a.selectAll("line").attr("stroke", "#000").attr("stroke-width", 1.2); });

  // frame
  g.append("rect").attr("x", B.l).attr("y", B.t).attr("width", B.r - B.l).attr("height", B.b - B.t)
    .attr("fill", "none").attr("stroke", "#000").attr("stroke-width", 2.6);

  // y tick labels 10^n
  Y_TICKS.forEach((v, i) => {
    const t = g.append("text").attr("x", 62).attr("y", y(v) + 16)
      .attr("font-family", SERIF).attr("font-size", 20).attr("fill", "#000");
    t.append("tspan").text("10");
    t.append("tspan").attr("font-size", 14).attr("dy", -9).text(Y_TICK_EXP[i]);
  });

  // y title
  g.append("text").attr("transform", `translate(31,${p.titleY}) rotate(-90)`)
    .attr("text-anchor", "middle").attr("dominant-baseline", "central")
    .attr("font-family", SERIF).attr("font-weight", "bold").attr("font-size", 21).text(Y_TITLE);

  // panel label
  g.append("text").attr("x", 12).attr("y", p.panelLabelY)
    .attr("font-family", SERIF).attr("font-size", 20).text(p.label);

  if (p.xLabels) {
    X_TICKS_NS.forEach((t, i) => {
      const cx = Math.min(Math.max(x(t), B.l + 7), B.r - 17);
      g.append("text").attr("x", cx).attr("y", 1025).attr("text-anchor", "middle")
        .attr("font-family", SERIF).attr("font-size", 20).text(X_TICK_LABELS[i]);
    });
    g.append("text").attr("x", 360).attr("y", 1055).attr("text-anchor", "middle")
      .attr("font-family", SERIF).attr("font-size", 21).text(X_TITLE);
  }
});

// ---------------- ANNOTATIONS ----------------
function arrowHead(g, tipX, yy, dir) {
  const L = 18, H = 8;
  g.append("path").attr("d", `M${tipX},${yy} L${tipX - dir * L},${yy - H} L${tipX - dir * L},${yy + H} Z`).attr("fill", "#000");
}
function divider(g, xv, y0, y1, yl, tipL, yr, tipR) {
  g.append("line").attr("x1", xv).attr("x2", xv).attr("y1", y0).attr("y2", y1).attr("stroke", "#000").attr("stroke-width", 3.2);
  g.append("line").attr("x1", xv).attr("x2", tipL + 14).attr("y1", yl).attr("y2", yl).attr("stroke", "#000").attr("stroke-width", 3.2);
  arrowHead(g, tipL, yl, -1);
  g.append("line").attr("x1", xv).attr("x2", tipR - 14).attr("y1", yr).attr("y2", yr).attr("stroke", "#000").attr("stroke-width", 3.2);
  arrowHead(g, tipR, yr, 1);
}
const ann = svg.append("g");
const pa = panels[0], pb = panels[1];
divider(ann, pa.x(400), 37, 163, 63, 277, 100, 353);
divider(ann, pb.x(1000), 660, 786, 718, 322, 756, 394);
const boldText = (tx, xx, yy) => ann.append("text").attr("x", xx).attr("y", yy)
  .attr("font-family", SERIF).attr("font-weight", "bold").attr("font-size", 20).text(tx);
boldText("Fast decay", 199, 35);
boldText("Slow decay", 350, 123);
boldText("Fast decay", 230, 692);
boldText("Slow", 383, 810);
boldText("decay", 383, 831);
</script>
</body></html>
